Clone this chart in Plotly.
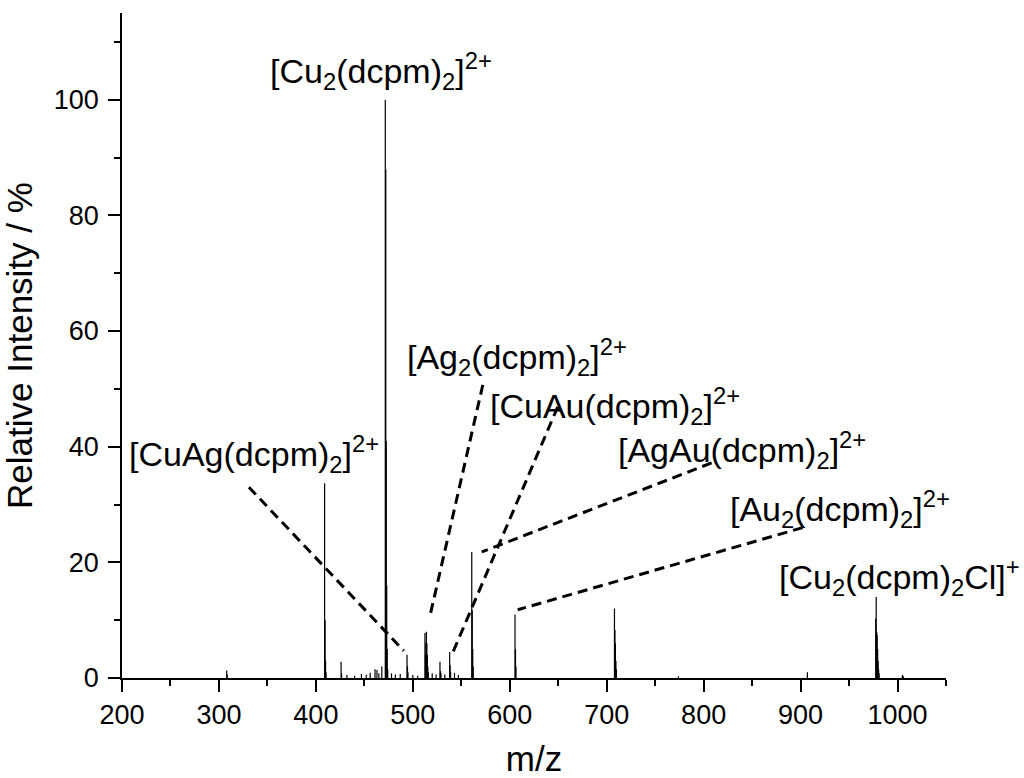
import plotly.graph_objects as go

# ---- data: stick spectrum (m/z, relative intensity %) ----
peak_mz = [308.0, 308.5,
           409.0, 409.5, 410.0, 410.5,
           426.0, 426.5,
           432.0, 440.0, 447.0, 452.0, 456.0, 461.0, 463.0, 465.0, 468.0,
           471.6, 472.1, 472.6, 473.1, 473.6, 474.1,
           478.0, 482.0, 487.0,
           494.0, 494.5, 495.0,
           500.0, 505.0,
           512.5, 513.0, 513.5, 514.0, 514.5, 515.0, 515.5, 516.0,
           520.0, 524.0,
           528.0, 528.5, 529.0,
           533.0,
           538.0, 538.5, 539.0,
           543.0, 547.0,
           560.8, 561.3, 561.8, 562.3,
           605.4, 605.9, 606.4,
           708.0, 708.5, 709.0, 709.5, 710.0,
           774.0, 907.0,
           977.5, 978.0, 978.5, 979.0, 979.5, 980.0, 980.5, 981.0,
           1005.0, 1006.0]
peak_int = [1.3, 0.6,
            33.7, 10.0, 3.0, 1.0,
            2.8, 0.8,
            0.5, 0.4, 0.7, 0.5, 0.9, 1.5, 1.4, 0.8, 2.0,
            100.0, 88.0, 41.0, 16.0, 5.0, 1.5,
            0.8, 0.6, 0.7,
            4.0, 2.0, 1.0,
            0.5, 0.4,
            7.8, 4.0, 6.0, 8.0, 6.0, 4.0, 2.0, 1.0,
            0.8, 0.6,
            2.8, 1.2, 0.8,
            0.6,
            4.5, 2.2, 1.0,
            0.9, 0.5,
            21.8, 11.7, 5.0, 2.0,
            11.0, 5.0, 2.0,
            12.0, 8.3, 6.0, 3.0, 1.5,
            0.3, 1.0,
            10.3, 14.0, 8.0, 7.5, 5.0, 3.0, 1.5, 0.8,
            0.5, 0.3]

# ---- labels ----
label_text = ["[Cu<sub>2</sub>(dcpm)<sub>2</sub>]<sup>2+</sup>",
              "[Ag<sub>2</sub>(dcpm)<sub>2</sub>]<sup>2+</sup>",
              "[CuAu(dcpm)<sub>2</sub>]<sup>2+</sup>",
              "[CuAg(dcpm)<sub>2</sub>]<sup>2+</sup>",
              "[AgAu(dcpm)<sub>2</sub>]<sup>2+</sup>",
              "[Au<sub>2</sub>(dcpm)<sub>2</sub>]<sup>2+</sup>",
              "[Cu<sub>2</sub>(dcpm)<sub>2</sub>Cl]<sup>+</sup>"]
label_x = [351.0, 491.8, 577.3, 205.2, 709.3, 824.7, 876.0]
label_y = [105.0, 55.5, 47.1, 38.8, 39.4, 29.2, 17.4]

# leader lines: (x0, y0) -> (x1, y1)
lead_x0 = [330.9, 572.2, 649.5, 808.2, 902.1]
lead_y0 = [33.0, 50.7, 46.9, 37.2, 26.0]
lead_x1 = [490.7, 517.5, 540.2, 571.1, 608.2]
lead_y1 = [4.7, 10.6, 4.0, 21.8, 11.8]

FONT = "Liberation Sans, Arial, sans-serif"

xs, ys = [], []
for m, v in zip(peak_mz, peak_int):
    xs += [m, m, None]
    ys += [0, v, None]

fig = go.Figure()
fig.add_trace(go.Scatter(x=xs, y=ys, mode="lines",
                         line=dict(color="black", width=1.2),
                         hoverinfo="skip", showlegend=False))

for t, x, y in zip(label_text, label_x, label_y):
    fig.add_annotation(x=x, y=y, xref="x", yref="y", text=t, showarrow=False,
                       xanchor="left", yanchor="middle",
                       font=dict(family=FONT, size=34, color="black"))

for x0, y0, x1, y1 in zip(lead_x0, lead_y0, lead_x1, lead_y1):
    fig.add_shape(type="line", x0=x0, y0=y0, x1=x1, y1=y1, xref="x", yref="y",
                  line=dict(color="black", width=3, dash="10px,6px"))

axis_common = dict(showline=True, linecolor="black", linewidth=1.8,
                   ticks="outside", tickcolor="black", tickwidth=1.8, ticklen=12,
                   showgrid=False, zeroline=False, automargin=False,
                   tickfont=dict(family=FONT, size=27, color="black"))

fig.update_xaxes(range=[200, 1050], dtick=100, tick0=0,
                 minor=dict(ticks="outside", ticklen=6, tickwidth=1.8,
                            tickcolor="black", dtick=50, showgrid=False),
                 title=dict(text="m/z", font=dict(family=FONT, size=35, color="black"),
                            standoff=22),
                 **axis_common)
fig.update_yaxes(range=[0, 115], dtick=20, tick0=0,
                 minor=dict(ticks="outside", ticklen=6, tickwidth=1.8,
                            tickcolor="black", dtick=10, showgrid=False),
                 ticklabelstandoff=4,
                 title=dict(text="Relative Intensity / %",
                            font=dict(family=FONT, size=35, color="black"),
                            standoff=10),
                 **axis_common)

fig.update_layout(width=1024, height=778,
                  margin=dict(l=122, r=78, t=13, b=100),
                  paper_bgcolor="white", plot_bgcolor="white",
                  showlegend=False)

fig.write_html("out.html")
